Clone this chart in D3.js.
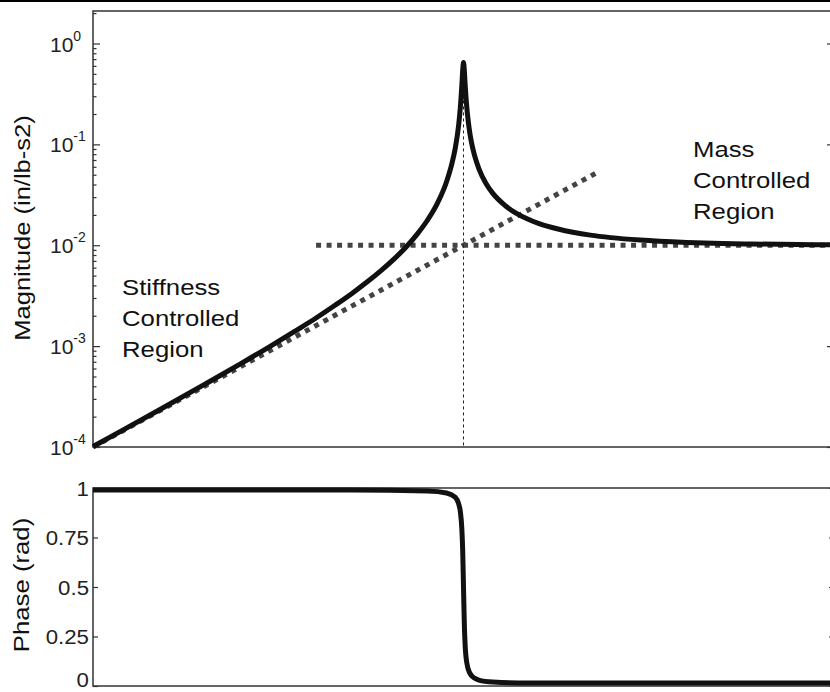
<!DOCTYPE html>
<html>
<head>
<meta charset="utf-8">
<script src="https://cdn.jsdelivr.net/npm/d3@7.9.0/dist/d3.min.js"></script>
<style>
  html, body { margin: 0; padding: 0; background: #fff; }
  svg { display: block; font-family: "Liberation Sans", Arial, sans-serif; }
</style>
</head>
<body>
<div id="chart"></div>
<script>
// frequency (rad/s) and accelerance magnitude
const freq = [1, 1.2, 1.5, 2, 2.5, 3, 3.5, 4, 4.5, 5, 5.5, 6, 6.5, 7, 7.5, 8, 8.5, 9, 9.3, 9.5, 9.7, 9.8, 9.9, 9.95, 10,
  10.05, 10.1, 10.2, 10.3, 10.4, 10.5, 10.7, 11, 11.5, 12, 13, 15, 16, 18, 22, 25, 30, 40, 50, 60, 80, 100];
const magnitude = [0.000101, 0.000146, 0.00023, 0.000417, 0.000667, 0.00099, 0.0014, 0.0019, 0.00254, 0.00333,
  0.00434, 0.00563, 0.00732, 0.0096, 0.0129, 0.0178, 0.026, 0.0426, 0.064, 0.0915, 0.154, 0.227, 0.391, 0.54, 0.649,
  0.548, 0.401, 0.24, 0.169, 0.13, 0.106, 0.0786, 0.0576, 0.041, 0.0327, 0.0245, 0.018, 0.0164, 0.0145, 0.0126,
  0.0119, 0.01125, 0.01067, 0.0104, 0.01029, 0.01016, 0.0101];

// phase
const phaseFreq = [1, 5, 8, 9, 9.5, 9.7, 9.8, 9.9, 9.95, 10, 10.05, 10.1, 10.2, 10.4, 10.7, 11, 12, 15, 30, 100];
const phase = [0.99, 0.99, 0.985, 0.975, 0.953, 0.921, 0.884, 0.79, 0.684, 0.5, 0.317, 0.21, 0.12, 0.065, 0.04,
  0.03, 0.02, 0.015, 0.015, 0.015];

// asymptotes
const stiffnessFreq = [1, 23];
const stiffnessMag = [0.0001, 0.0529];
const massFreq = [4, 100];
const massMag = [0.01, 0.01];
const resonanceFreq = 10;
const resonancePeak = 0.62;

// ticks
const magTicks = [1e-4, 1e-3, 1e-2, 1e-1, 1];
const magTickExp = ['-4', '-3', '-2', '-1', '0'];
const magMinorTicks = [];
[1e-4, 1e-3, 1e-2, 1e-1, 1].forEach(p => [2, 3, 4, 5, 6, 7, 8, 9].forEach(m => {
  if (p * m < 2.1) magMinorTicks.push(p * m);
}));
const phaseTicks = [0, 0.25, 0.5, 0.75, 1];
const phaseTickLabels = ['0', '0.25', '0.5', '0.75', '1'];

const stiffnessLabel = ['Stiffness', 'Controlled', 'Region'];
const massLabel = ['Mass', 'Controlled', 'Region'];

const width = 830;
const height = 692;

const x = d3.scaleLog().domain([1, 100]).range([93, 834]);
const yMag = d3.scaleLog().domain([1e-4, 2.1]).range([447, 11]);
const yPhase = d3.scaleLinear().domain([0, 1]).range([686, 488]);

const svg = d3.select('#chart').append('svg')
  .attr('width', width)
  .attr('height', height);

// page rule at the very top
svg.append('line')
  .attr('x1', 0).attr('x2', width)
  .attr('y1', 1).attr('y2', 1)
  .attr('stroke', '#000')
  .attr('stroke-width', 2);

// frames
function frame(yScale) {
  const [y0, y1] = yScale.range();
  svg.append('rect')
    .attr('x', x.range()[0])
    .attr('y', y1)
    .attr('width', x.range()[1] - x.range()[0])
    .attr('height', y0 - y1)
    .attr('fill', 'none')
    .attr('stroke', '#333')
    .attr('stroke-width', 1.5);
}
frame(yMag);
frame(yPhase);

function ticks(axisFn, scale, values, size, xPos) {
  const g = svg.append('g')
    .attr('transform', `translate(${xPos},0)`)
    .call(axisFn(scale).tickValues(values).tickSize(size).tickFormat(''));
  g.select('.domain').remove();
  g.selectAll('line').attr('stroke', '#333').attr('stroke-width', 1.2);
}

// inward ticks on both sides
ticks(d3.axisLeft, yMag, magTicks, -7, x.range()[0]);
ticks(d3.axisLeft, yMag, magMinorTicks, -3.5, x.range()[0]);
ticks(d3.axisRight, yMag, magTicks, -7, x.range()[1]);
ticks(d3.axisRight, yMag, magMinorTicks, -3.5, x.range()[1]);
ticks(d3.axisLeft, yPhase, phaseTicks, -5, x.range()[0]);
ticks(d3.axisRight, yPhase, phaseTicks, -5, x.range()[1]);

// magnitude tick labels 10^n
const magLabels = svg.append('g')
  .selectAll('text')
  .data(d3.zip(magTicks, magTickExp))
  .join('text')
  .attr('x', 50)
  .attr('y', d => yMag(d[0]) + 8)
  .attr('fill', '#222')
  .attr('font-size', 21);
magLabels.append('tspan').text('10');
magLabels.append('tspan')
  .attr('dy', -11)
  .attr('font-size', 14)
  .text(d => d[1]);

// phase tick labels (the bottom one is kept inside the page)
svg.append('g')
  .selectAll('text')
  .data(d3.zip(phaseTicks, phaseTickLabels))
  .join('text')
  .attr('text-anchor', 'end')
  .attr('transform', d => `translate(89,${Math.min(yPhase(d[0]) + 7.5, 687)}) scale(1.06,1)`)
  .attr('fill', '#222')
  .attr('font-size', 21)
  .text(d => d[1]);

// axis titles
svg.append('text')
  .attr('transform', `translate(30,228) rotate(-90) scale(1.16,1)`)
  .attr('text-anchor', 'middle')
  .attr('font-size', 22)
  .attr('fill', '#111')
  .text('Magnitude (in/lb-s2)');

svg.append('text')
  .attr('transform', `translate(29,585) rotate(-90) scale(1.17,1)`)
  .attr('text-anchor', 'middle')
  .attr('font-size', 22)
  .attr('fill', '#111')
  .text('Phase (rad)');

// asymptotes
const magLine = d3.line()
  .x(d => x(d[0]))
  .y(d => yMag(d[1]));

svg.append('path')
  .datum(d3.zip(stiffnessFreq, stiffnessMag))
  .attr('d', magLine)
  .attr('fill', 'none')
  .attr('stroke', '#444')
  .attr('stroke-width', 5)
  .attr('stroke-dasharray', '5,5.5');

svg.append('path')
  .datum(d3.zip(massFreq, massMag))
  .attr('d', magLine)
  .attr('fill', 'none')
  .attr('stroke', '#444')
  .attr('stroke-width', 5)
  .attr('stroke-dasharray', '5,5.5');

// resonance marker
svg.append('line')
  .attr('x1', x(resonanceFreq)).attr('x2', x(resonanceFreq))
  .attr('y1', yMag(resonancePeak)).attr('y2', yMag(1e-4))
  .attr('stroke', '#222')
  .attr('stroke-width', 1)
  .attr('stroke-dasharray', '3,3');

// magnitude curve
svg.append('path')
  .datum(d3.zip(freq, magnitude))
  .attr('d', magLine.curve(d3.curveMonotoneX))
  .attr('fill', 'none')
  .attr('stroke', '#111')
  .attr('stroke-width', 5)
  .attr('stroke-linejoin', 'round');

// phase curve
svg.append('path')
  .datum(d3.zip(phaseFreq, phase))
  .attr('d', d3.line()
    .x(d => x(d[0]))
    .y(d => yPhase(d[1]))
    .curve(d3.curveMonotoneX))
  .attr('fill', 'none')
  .attr('stroke', '#111')
  .attr('stroke-width', 5)
  .attr('stroke-linejoin', 'round');

// region annotations
function annotate(lines, px, py) {
  svg.append('g')
    .selectAll('text')
    .data(lines)
    .join('text')
    .attr('transform', (d, i) => `translate(${px},${py + i * 31}) scale(1.17,1)`)
    .attr('font-size', 22)
    .attr('fill', '#111')
    .text(d => d);
}
annotate(stiffnessLabel, 122, 295);
annotate(massLabel, 693, 157);
</script>
</body>
</html>
